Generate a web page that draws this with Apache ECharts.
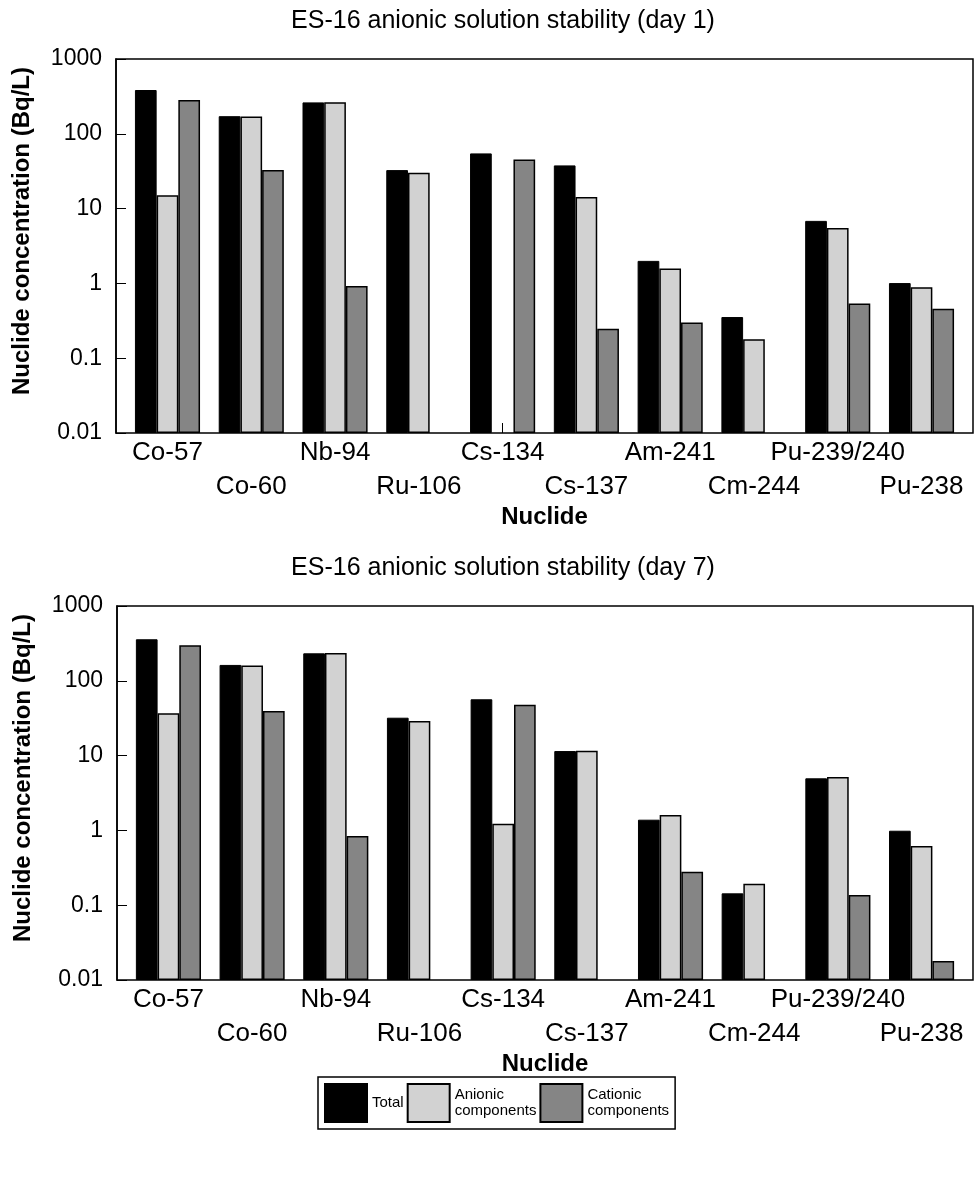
<!DOCTYPE html>
<html>
<head>
<meta charset="utf-8">
<script src="https://cdn.jsdelivr.net/npm/echarts@6/dist/echarts.min.js"></script>
<style>
html,body{margin:0;padding:0;background:#fff;}
#chart{width:974px;height:1188px;}
</style>
</head>
<body>
<div id="chart"></div>
<script>
const categories = ['Co-57','Co-60','Nb-94','Ru-106','Cs-134','Cs-137','Am-241','Cm-244','Pu-239/240','Pu-238'];
const seriesNames = ['Total','Anionic\ncomponents','Cationic\ncomponents'];
const titles = ['ES-16 anionic solution stability (day 1)','ES-16 anionic solution stability (day 7)'];
const yTickValues = [0.01, 0.1, 1, 10, 100, 1000];

const day1Total    = [385, 172, 263, 32.7, 54.7, 37.8, 2.0, 0.355, 6.85, 1.01];
const day1Anionic  = [15.1, 170, 265, 30.1, null, 14.3, 1.58, 0.179, 5.5, 0.887];
const day1Cationic = [282, 32.7, 0.92, null, 45.4, 0.248, 0.30, null, 0.537, 0.46];

const day7Total    = [359, 163, 233, 32.1, 56.6, 11.5, 1.39, 0.144, 4.97, 0.99];
const day7Anionic  = [36.8, 160, 235, 29, 1.23, 11.6, 1.61, 0.194, 5.16, 0.62];
const day7Cationic = [298, 39.5, 0.84, null, 48, null, 0.28, null, 0.137, 0.018];

const FONT = 'Liberation Sans';
const yMin = yTickValues[0], yMax = yTickValues[yTickValues.length - 1];

const chart = echarts.init(document.getElementById('chart'), null, {renderer: 'canvas'});

function fmtY(v) { return String(+Number(v).toPrecision(1)); }

function frameGrid(top, left) {
  return {left: left, top: top, width: 973 - left, height: 374, show: true,
          borderColor: '#000', borderWidth: 1.5, backgroundColor: 'transparent', containLabel: false};
}
function barGrid(top, left) {
  return {left: left + 9.6, top: top, width: 973 - left - 19.2, height: 374, containLabel: false};
}
function frameX(gi) { return {gridIndex: gi, type: 'value', min: 0, max: 1, show: false}; }
function barX(gi) {
  return {
    gridIndex: gi, type: 'category', data: categories, boundaryGap: true,
    axisLine: {show: false},
    axisTick: {show: true, inside: true, alignWithLabel: true, length: 10, lineStyle: {color: '#000', width: 1}},
    axisLabel: {interval: 0, fontSize: 26, color: '#000', fontFamily: FONT, lineHeight: 34, margin: 3,
      formatter: (v, i) => (i % 2 ? '\n' + v : v)},
    splitLine: {show: false},
    name: 'Nuclide', nameLocation: 'middle', nameGap: 70,
    nameTextStyle: {fontSize: 24, fontWeight: 'bold', color: '#000', fontFamily: FONT}
  };
}
function frameY(gi) {
  return {
    gridIndex: gi, type: 'log', logBase: 10, min: yMin, max: yMax,
    axisLine: {show: true, lineStyle: {color: '#000', width: 1.5}},
    axisTick: {show: true, inside: true, length: 10, lineStyle: {color: '#000', width: 1}},
    axisLabel: {fontSize: 23, color: '#000', fontFamily: FONT, margin: 14, formatter: fmtY},
    splitLine: {show: false}, minorTick: {show: false},
    name: 'Nuclide concentration (Bq/L)', nameLocation: 'middle', nameGap: 82, nameRotate: 90,
    nameTextStyle: {fontSize: 24, fontWeight: 'bold', color: '#000', fontFamily: FONT, padding: [0, 0, 0, 30]}
  };
}
function barY(gi) {
  return {gridIndex: gi, type: 'log', logBase: 10, min: yMin, max: yMax, startValue: yMin, show: false,
          splitLine: {show: false}};
}

const styles = [
  {color: '#000000', borderColor: '#000', borderWidth: 1},
  {color: '#d2d2d2', borderColor: '#000', borderWidth: 1.5},
  {color: '#858585', borderColor: '#000', borderWidth: 1.5}
];

function barSeries(axisIdx, arrays) {
  return arrays.map((arr, k) => ({
    type: 'bar', name: seriesNames[k], xAxisIndex: axisIdx, yAxisIndex: axisIdx,
    data: arr.map(v => (v == null ? '-' : v)),
    barWidth: 21.7, barGap: '0%',
    itemStyle: styles[k]
  }));
}

const option = {
  animation: false,
  backgroundColor: '#fff',
  textStyle: {fontFamily: FONT},
  title: [
    {text: titles[0], left: 498, top: 4, textAlign: 'center',
     textStyle: {fontSize: 25, fontWeight: 'normal', color: '#000', fontFamily: FONT}},
    {text: titles[1], left: 498, top: 551, textAlign: 'center',
     textStyle: {fontSize: 25, fontWeight: 'normal', color: '#000', fontFamily: FONT}}
  ],
  legend: {
    data: seriesNames, left: 318, top: 1077, orient: 'horizontal', icon: 'rect',
    itemWidth: 42, itemHeight: 38, itemGap: 3, selectedMode: false,
    borderColor: '#000', borderWidth: 1.5, padding: [6, 6, 6, 6],
    textStyle: {fontSize: 15, color: '#000', lineHeight: 16, fontFamily: FONT}
  },
  grid: [frameGrid(59, 116), barGrid(59, 116), frameGrid(606, 117), barGrid(606, 117)],
  xAxis: [frameX(0), barX(1), frameX(2), barX(3)],
  yAxis: [frameY(0), barY(1), frameY(2), barY(3)],
  series: [].concat(
    barSeries(1, [day1Total, day1Anionic, day1Cationic]),
    barSeries(3, [day7Total, day7Anionic, day7Cationic])
  )
};
chart.setOption(option);
</script>
</body>
</html>
